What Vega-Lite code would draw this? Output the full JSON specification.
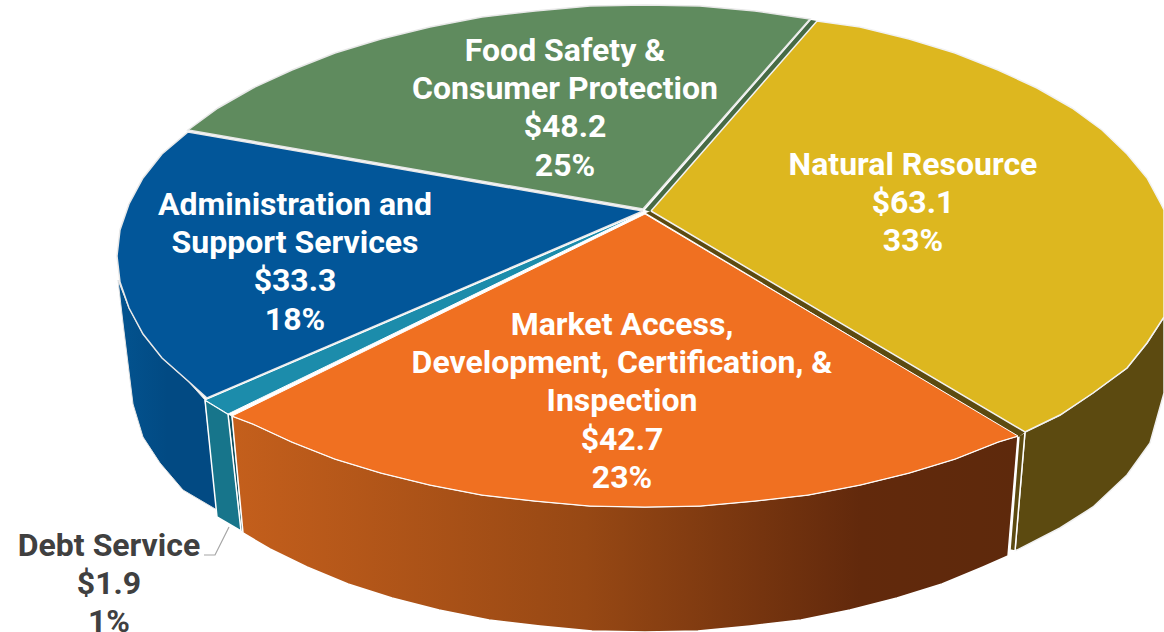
{"$schema":"https://vega.github.io/schema/vega-lite/v6.json","width":1164,"height":632,"autosize":{"type":"none"},"padding":0,"background":"#ffffff","config":{"view":{"stroke":null}},
"datasets":{
"slices":[
{"slice":"Food Safety & Consumer Protection","amount":48.2,"share":25,"label":"Food Safety &\nConsumer Protection\n$48.2\n25%","px":565,"py":36,"tone":"light"},
{"slice":"Natural Resource","amount":63.1,"share":33,"label":"Natural Resource\n$63.1\n33%","px":913,"py":150,"tone":"light"},
{"slice":"Administration and Support Services","amount":33.3,"share":18,"label":"Administration and\nSupport Services\n$33.3\n18%","px":295,"py":190,"tone":"light"},
{"slice":"Market Access, Development, Certification, & Inspection","amount":42.7,"share":23,"label":"Market Access,\nDevelopment, Certification, &\nInspection\n$42.7\n23%","px":622,"py":310,"tone":"light"},
{"slice":"Debt Service","amount":1.9,"share":1,"label":"Debt Service\n$1.9\n1%","px":109,"py":531,"tone":"dark"}
],
"outline":[
{"f":"leader","x":229,"y":527},{"f":"leader","x":215,"y":555},{"f":"leader","x":204,"y":555},
{"f":"blueSide","x":118,"y":280},{"f":"blueSide","x":129,"y":308},{"f":"blueSide","x":143,"y":334},{"f":"blueSide","x":162,"y":358},{"f":"blueSide","x":188,"y":381},{"f":"blueSide","x":205,"y":400},{"f":"blueSide","x":217,"y":510},{"f":"blueSide","x":183,"y":490},{"f":"blueSide","x":160,"y":463},{"f":"blueSide","x":143,"y":437},{"f":"blueSide","x":133,"y":404},{"f":"blueSide","x":123,"y":323},{"f":"blueSide","x":118,"y":280},
{"f":"debtSide","x":205,"y":400},{"f":"debtSide","x":228,"y":414},{"f":"debtSide","x":241,"y":531},{"f":"debtSide","x":217,"y":517},{"f":"debtSide","x":205,"y":400},
{"f":"debtGap","x":228,"y":414},{"f":"debtGap","x":232,"y":416},{"f":"debtGap","x":243,"y":533},{"f":"debtGap","x":241,"y":531},{"f":"debtGap","x":228,"y":414},
{"f":"orangeSide","x":232,"y":416},{"f":"orangeSide","x":253,"y":424},{"f":"orangeSide","x":292,"y":442},{"f":"orangeSide","x":335,"y":459},{"f":"orangeSide","x":381,"y":473},{"f":"orangeSide","x":430,"y":485},{"f":"orangeSide","x":482,"y":495},{"f":"orangeSide","x":535,"y":501},{"f":"orangeSide","x":590,"y":506},{"f":"orangeSide","x":645,"y":507},{"f":"orangeSide","x":700,"y":506},{"f":"orangeSide","x":755,"y":501},{"f":"orangeSide","x":808,"y":495},{"f":"orangeSide","x":860,"y":485},{"f":"orangeSide","x":909,"y":473},{"f":"orangeSide","x":955,"y":459},{"f":"orangeSide","x":998,"y":442},{"f":"orangeSide","x":1018,"y":436},{"f":"orangeSide","x":1008,"y":556},{"f":"orangeSide","x":983,"y":567},{"f":"orangeSide","x":942,"y":584},{"f":"orangeSide","x":897,"y":598},{"f":"orangeSide","x":850,"y":610},{"f":"orangeSide","x":801,"y":620},{"f":"orangeSide","x":750,"y":626},{"f":"orangeSide","x":698,"y":631},{"f":"orangeSide","x":645,"y":632},{"f":"orangeSide","x":592,"y":631},{"f":"orangeSide","x":540,"y":626},{"f":"orangeSide","x":489,"y":620},{"f":"orangeSide","x":439,"y":610},{"f":"orangeSide","x":392,"y":598},{"f":"orangeSide","x":348,"y":584},{"f":"orangeSide","x":307,"y":567},{"f":"orangeSide","x":270,"y":549},{"f":"orangeSide","x":243,"y":533},{"f":"orangeSide","x":232,"y":416},
{"f":"yellowEnd","x":1019,"y":436},{"f":"yellowEnd","x":1025,"y":432},{"f":"yellowEnd","x":1015,"y":551},{"f":"yellowEnd","x":1010,"y":550},{"f":"yellowEnd","x":1019,"y":436},
{"f":"yellowSide","x":1025,"y":432},{"f":"yellowSide","x":1060,"y":415},{"f":"yellowSide","x":1093,"y":393},{"f":"yellowSide","x":1127,"y":368},{"f":"yellowSide","x":1147,"y":343},{"f":"yellowSide","x":1164,"y":317},{"f":"yellowSide","x":1164,"y":393},{"f":"yellowSide","x":1150,"y":443},{"f":"yellowSide","x":1127,"y":475},{"f":"yellowSide","x":1093,"y":507},{"f":"yellowSide","x":1060,"y":528},{"f":"yellowSide","x":1015,"y":551},{"f":"yellowSide","x":1025,"y":432},
{"f":"yellowGap","x":646,"y":213},{"f":"yellowGap","x":651,"y":211},{"f":"yellowGap","x":1025,"y":432},{"f":"yellowGap","x":1019,"y":437},{"f":"yellowGap","x":646,"y":213},
{"f":"greenGap","x":645,"y":210},{"f":"greenGap","x":811,"y":20},{"f":"greenGap","x":817,"y":21},{"f":"greenGap","x":651,"y":212},{"f":"greenGap","x":645,"y":210},
{"f":"greenTop","x":643,"y":209},{"f":"greenTop","x":810,"y":19},{"f":"greenTop","x":755,"y":11},{"f":"greenTop","x":700,"y":6},{"f":"greenTop","x":645,"y":5},{"f":"greenTop","x":590,"y":6},{"f":"greenTop","x":535,"y":11},{"f":"greenTop","x":482,"y":17},{"f":"greenTop","x":430,"y":27},{"f":"greenTop","x":381,"y":39},{"f":"greenTop","x":335,"y":53},{"f":"greenTop","x":292,"y":70},{"f":"greenTop","x":253,"y":88},{"f":"greenTop","x":218,"y":108},{"f":"greenTop","x":188,"y":130},{"f":"greenTop","x":643,"y":209},
{"f":"yellowTop","x":651,"y":211},{"f":"yellowTop","x":817,"y":21},{"f":"yellowTop","x":860,"y":27},{"f":"yellowTop","x":909,"y":39},{"f":"yellowTop","x":955,"y":53},{"f":"yellowTop","x":998,"y":70},{"f":"yellowTop","x":1037,"y":88},{"f":"yellowTop","x":1072,"y":108},{"f":"yellowTop","x":1102,"y":130},{"f":"yellowTop","x":1127,"y":154},{"f":"yellowTop","x":1147,"y":178},{"f":"yellowTop","x":1161,"y":204},{"f":"yellowTop","x":1164,"y":210},{"f":"yellowTop","x":1164,"y":317},{"f":"yellowTop","x":1147,"y":343},{"f":"yellowTop","x":1127,"y":368},{"f":"yellowTop","x":1093,"y":393},{"f":"yellowTop","x":1060,"y":415},{"f":"yellowTop","x":1025,"y":432},{"f":"yellowTop","x":651,"y":211},
{"f":"blueTop","x":643,"y":211},{"f":"blueTop","x":188,"y":132},{"f":"blueTop","x":162,"y":154},{"f":"blueTop","x":143,"y":178},{"f":"blueTop","x":129,"y":204},{"f":"blueTop","x":120,"y":230},{"f":"blueTop","x":117,"y":256},{"f":"blueTop","x":120,"y":282},{"f":"blueTop","x":129,"y":308},{"f":"blueTop","x":143,"y":334},{"f":"blueTop","x":162,"y":358},{"f":"blueTop","x":188,"y":381},{"f":"blueTop","x":207,"y":398},{"f":"blueTop","x":643,"y":211},
{"f":"debtTop","x":644,"y":212},{"f":"debtTop","x":205,"y":400},{"f":"debtTop","x":228,"y":414},{"f":"debtTop","x":644,"y":212},
{"f":"orangeTop","x":645,"y":214},{"f":"orangeTop","x":232,"y":416},{"f":"orangeTop","x":253,"y":424},{"f":"orangeTop","x":292,"y":442},{"f":"orangeTop","x":335,"y":459},{"f":"orangeTop","x":381,"y":473},{"f":"orangeTop","x":430,"y":485},{"f":"orangeTop","x":482,"y":495},{"f":"orangeTop","x":535,"y":501},{"f":"orangeTop","x":590,"y":506},{"f":"orangeTop","x":645,"y":507},{"f":"orangeTop","x":700,"y":506},{"f":"orangeTop","x":755,"y":501},{"f":"orangeTop","x":808,"y":495},{"f":"orangeTop","x":860,"y":485},{"f":"orangeTop","x":909,"y":473},{"f":"orangeTop","x":955,"y":459},{"f":"orangeTop","x":998,"y":442},{"f":"orangeTop","x":1018,"y":436},{"f":"orangeTop","x":645,"y":214}
]},
"data":{"name":"outline"},
"encoding":{"x":{"field":"x","type":"quantitative","scale":{"domain":[0,1164],"nice":false,"zero":false},"axis":null},"y":{"field":"y","type":"quantitative","scale":{"domain":[632,0],"nice":false,"zero":false},"axis":null},"order":{"value":null}},
"layer":[
{"transform":[{"filter":"datum.f==='blueSide'"}],"mark":{"type":"line","strokeWidth":1,"stroke":"#e4e4e4","fill":{"x1":0,"y1":0,"x2":1,"y2":0,"gradient":"linear","stops":[{"offset":0,"color":"#03538f"},{"offset":0.5,"color":"#024a83"},{"offset":1,"color":"#024a83"}]}}},
{"transform":[{"filter":"datum.f==='debtGap'"}],"mark":{"type":"line","strokeWidth":1,"stroke":"#ffffff","fill":"#0f4f5f"}},
{"transform":[{"filter":"datum.f==='debtSide'"}],"mark":{"type":"line","strokeWidth":1.5,"stroke":"#ffffff","fill":"#17758b"}},
{"transform":[{"filter":"datum.f==='orangeSide'"}],"mark":{"type":"line","strokeWidth":1.5,"stroke":"#ffffff","fill":{"x1":0,"y1":0,"x2":1,"y2":0,"gradient":"linear","stops":[{"offset":0,"color":"#c45f1c"},{"offset":0.45,"color":"#974814"},{"offset":0.8,"color":"#62290c"},{"offset":1,"color":"#5e290c"}]}}},
{"transform":[{"filter":"datum.f==='yellowSide'"}],"mark":{"type":"line","strokeWidth":1.5,"stroke":"#f0f0f0","fill":"#5c4a10"}},
{"transform":[{"filter":"datum.f==='yellowEnd'"}],"mark":{"type":"line","strokeWidth":1.5,"stroke":"#ffffff","fill":"#5c4a10"}},
{"transform":[{"filter":"datum.f==='yellowGap'"}],"mark":{"type":"line","strokeWidth":0,"fill":"#5c4a10"}},
{"transform":[{"filter":"datum.f==='greenGap'"}],"mark":{"type":"line","strokeWidth":0,"fill":"#466a45"}},
{"transform":[{"filter":"datum.f==='greenTop'"}],"mark":{"type":"line","strokeWidth":1.5,"stroke":"#e8e8e8","fill":"#5f8b5e"}},
{"transform":[{"filter":"datum.f==='yellowTop'"}],"mark":{"type":"line","strokeWidth":1.5,"stroke":"#f2f2f2","fill":"#ddb71f"}},
{"transform":[{"filter":"datum.f==='blueTop'"}],"mark":{"type":"line","strokeWidth":1.5,"stroke":"#e8e8e8","fill":"#025699"}},
{"transform":[{"filter":"datum.f==='debtTop'"}],"mark":{"type":"line","strokeWidth":1,"stroke":"#ffffff","fill":"#1c8cab"}},
{"transform":[{"filter":"datum.f==='orangeTop'"}],"mark":{"type":"line","strokeWidth":1,"stroke":"#ffffff","fill":"#f07021"}},
{"transform":[{"filter":"datum.f==='leader'"}],"mark":{"type":"line","strokeWidth":1.2,"stroke":"#a6a6a6"}},
{"data":{"name":"slices"},"mark":{"type":"text","font":"Roboto","fontWeight":"bold","fontSize":32,"lineHeight":38.2,"lineBreak":"\n","align":"center","baseline":"top"},"encoding":{"x":{"field":"px","type":"quantitative"},"y":{"field":"py","type":"quantitative"},"order":{"value":null},"text":{"field":"label"},"color":{"field":"tone","type":"nominal","scale":{"domain":["light","dark"],"range":["#ffffff","#404040"]},"legend":null}}}
]}
